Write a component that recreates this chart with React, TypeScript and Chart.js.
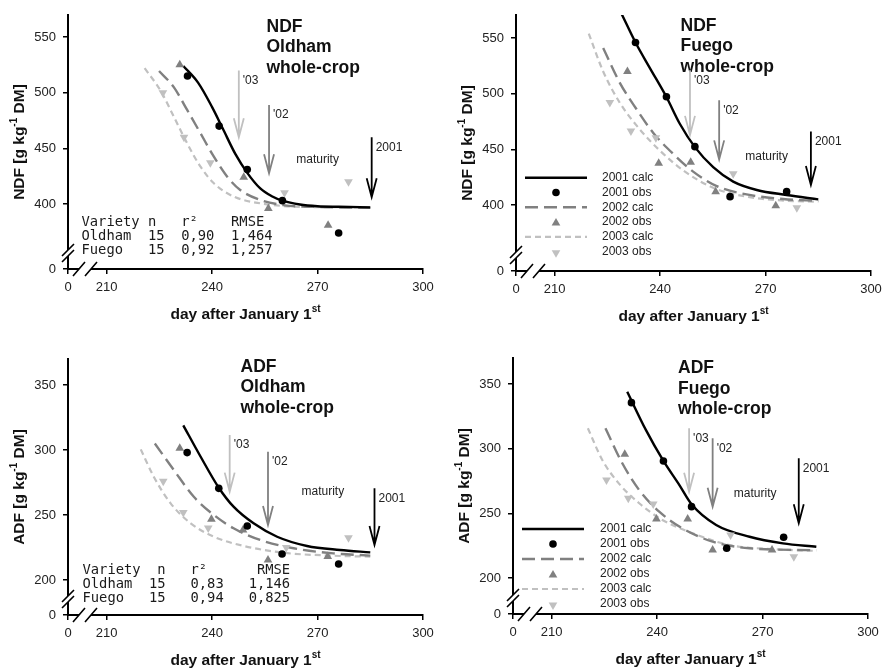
import React, { useEffect, useRef } from 'react';
import { Chart, registerables } from 'chart.js';

Chart.register(...registerables);
Chart.defaults.font.family = '"Liberation Sans", Arial, sans-serif';

// ---------- tick labels ----------
const xTickDays = [210, 240, 270, 300];
const ndfTickValues = [400, 450, 500, 550];
const adfTickValues = [200, 250, 300, 350];

const legendLabels = ['2001 calc', '2001 obs', '2002 calc', '2002 obs', '2003 calc', '2003 obs'];
const arrowLabels = ["'03", "'02", '2001'];
const maturityLabel = 'maturity';

// ---------- NDF Oldham ----------
const ndfOldCalc2001 = [[231.8, 524], [236, 509], [240, 487], [243, 468], [246.6, 445], [250, 428], [253.7, 414], [257, 407], [260, 403], [265, 399.5], [270, 398], [276, 397.5], [285, 397]];
const ndfOldCalc2002 = [[224.9, 519.5], [229.1, 505], [232.9, 484.5], [236.7, 463.5], [240.5, 442.5], [244.3, 424.5], [248, 412.6], [253.7, 403.6], [260.3, 399], [270, 397.3], [285, 396.5]];
const ndfOldCalc2003 = [[220.8, 522], [225.3, 502], [229.1, 478.5], [232.9, 454.5], [236.7, 433.5], [240.5, 418.6], [246.2, 406.6], [253.7, 400.6], [265, 397.5], [285, 397]];
const ndfOldObs2001 = [[233, 515], [242, 470], [250, 431], [260, 403], [276, 374]];
const ndfOldObs2002 = [[230.8, 525], [249, 424], [256, 396], [273, 381]];
const ndfOldObs2003 = [[226, 500], [232, 460], [239.5, 437], [260.6, 410], [278.8, 420]];
const ndfOldArrowDays = [247.6, 256.2, 285.4];
const ndfOldArrowTops = [520, 489, 460];
const ndfOldArrowTips = [460, 427.6, 406];
const ndfOldMaturity = [270, 440];
const ndfOldTable = ['Variety n   r\u00b2    RMSE', 'Oldham  15  0,90  1,464', 'Fuego   15  0,92  1,257'];

// ---------- NDF Fuego ----------
const ndfFueCalc2001 = [[229, 572], [233, 546], [237.1, 523], [241.8, 497], [245.6, 473], [249.9, 452], [255.1, 434], [260.8, 421], [267.5, 413.5], [276, 409], [285, 405]];
const ndfFueCalc2002 = [[223.8, 541], [228.5, 510], [233.3, 486], [238, 465], [243.7, 446], [249.4, 430], [256.1, 417], [264.6, 409.5], [275, 405.4], [285, 403.6]];
const ndfFueCalc2003 = [[219.7, 554], [223.8, 520], [228.5, 492], [234.2, 468], [239.9, 449], [246.6, 431], [255.1, 415.5], [264.6, 407.5], [275, 404], [285, 403]];
const ndfFueObs2001 = [[233, 546], [241.8, 497.3], [249.9, 452.4], [259.9, 407.5], [276, 412]];
const ndfFueObs2002 = [[230.7, 520], [239.6, 437.5], [248.7, 438.4], [255.8, 412], [272.9, 399.4]];
const ndfFueObs2003 = [[225.7, 492], [231.7, 466.5], [238.8, 460.5], [260.8, 428], [278.9, 397.6]];
const ndfFueArrowDays = [248.5, 256.8, 282.9];
const ndfFueArrowTops = [521, 494, 466];
const ndfFueArrowTips = [463, 441, 418];
const ndfFueMaturity = [270.3, 443.4];

// ---------- ADF Oldham ----------
const adfOldCalc2001 = [[231.8, 319], [236.7, 295], [241.9, 271], [246.1, 256.4], [251.8, 243.6], [258.5, 233.3], [267, 226.2], [276.4, 223.1], [285, 221.3]];
const adfOldCalc2002 = [[223.7, 305], [229.1, 284.6], [234.8, 264], [240.5, 250], [246.1, 239.8], [253.7, 230.8], [263.2, 224.4], [274.5, 220.5], [285, 218.8]];
const adfOldCalc2003 = [[219.7, 300.5], [223.4, 279.5], [228.2, 259], [233.9, 243.6], [240.5, 233.3], [249, 226.2], [260.3, 221], [274.5, 218.7], [285, 218]];
const adfOldObs2001 = [[232.9, 298], [241.9, 270.5], [250, 241.5], [259.9, 220], [276, 212.3]];
const adfOldObs2002 = [[230.8, 301.3], [239.8, 246.7], [248.8, 238.5], [255.9, 215.4], [272.9, 218]];
const adfOldObs2003 = [[226.1, 276], [231.8, 252], [238.9, 240], [261.1, 225], [278.8, 232.5]];
const adfOldArrowDays = [245, 255.9, 286.2];
const adfOldArrowTops = [311.5, 298.7, 270.5];
const adfOldArrowTips = [268, 242.3, 227];
const adfOldMaturity = [271.5, 268.2];
const adfOldTable = ['Variety  n   r\u00b2      RMSE', 'Oldham  15   0,83   1,146', 'Fuego   15   0,94   0,825'];

// ---------- ADF Fuego ----------
const adfFueCalc2001 = [[231.5, 344], [236.8, 314.5], [241.8, 290.5], [246.3, 272], [249.8, 257], [256.8, 241], [266.3, 231.9], [275.8, 226.8], [285.3, 224.2]];
const adfFueCalc2002 = [[225.3, 315.8], [230.1, 288.7], [234.9, 268], [240.6, 251.3], [247.2, 238.4], [255.8, 228.1], [266.3, 223], [285.3, 221.5]];
const adfFueCalc2003 = [[220.3, 315.8], [224.4, 291.3], [229.1, 273.2], [234.9, 257.8], [241.5, 244.9], [250.1, 234.6], [260.6, 225.5], [272.9, 222.3], [285.3, 221]];
const adfFueObs2001 = [[232.7, 335.6], [241.8, 290.5], [249.8, 255.2], [259.8, 223], [276, 231.5]];
const adfFueObs2002 = [[230.8, 295.7], [239.8, 245.6], [248.7, 245.6], [255.8, 221.7], [272.7, 221.7]];
const adfFueObs2003 = [[225.6, 275.8], [231.8, 261.6], [238.9, 257.2], [260.9, 233.3], [278.9, 216.5]];
const adfFueArrowDays = [249.1, 255.8, 280.3];
const adfFueArrowTops = [315.8, 308, 292.6];
const adfFueArrowTips = [266.7, 255.1, 242.3];
const adfFueMaturity = [267.9, 265.5];

// ---------- styles ----------
const seriesColors = ['#000000', '#808080', '#c0c0c0'];
const arrowColors = ['#c0c0c0', '#808080', '#000000'];
const calcDashes = [[], [13, 6], [6, 4]];
const calcWidths = [2.4, 2.4, 2.2];
const FONT = '"Liberation Sans", Arial, sans-serif';

interface PanelCfg {
  left: number; top: number; width: number; height: number;
  area: { left: number; right: number; top: number; bottom: number };
  yMin: number; yMax: number; yTicks: number[];
  yTitle: string; title: string[]; titlePos: number[];
  calc: number[][][]; obs: number[][][];
  arrowDays: number[]; arrowTops: number[]; arrowTips: number[];
  maturity: number[];
  table?: string[]; tablePos?: number[];
  legendPos?: number[];
}

const X_MIN = 199;
const X_MAX = 300;

const panels: PanelCfg[] = [
  {
    left: 0, top: 0, width: 441, height: 334,
    area: { left: 68, right: 423, top: 15, bottom: 269 },
    yMin: 341.6, yMax: 569.8, yTicks: ndfTickValues,
    yTitle: 'NDF', title: ['NDF', 'Oldham', 'whole-crop'], titlePos: [266.5, 27],
    calc: [ndfOldCalc2001, ndfOldCalc2002, ndfOldCalc2003],
    obs: [ndfOldObs2001, ndfOldObs2002, ndfOldObs2003],
    arrowDays: ndfOldArrowDays, arrowTops: ndfOldArrowTops, arrowTips: ndfOldArrowTips,
    maturity: ndfOldMaturity, table: ndfOldTable, tablePos: [81.5, 222],
  },
  {
    left: 441, top: 0, width: 442, height: 334,
    area: { left: 75, right: 430, top: 15, bottom: 271 },
    yMin: 340.7, yMax: 570.7, yTicks: ndfTickValues,
    yTitle: 'NDF', title: ['NDF', 'Fuego', 'whole-crop'], titlePos: [239.5, 26],
    calc: [ndfFueCalc2001, ndfFueCalc2002, ndfFueCalc2003],
    obs: [ndfFueObs2001, ndfFueObs2002, ndfFueObs2003],
    arrowDays: ndfFueArrowDays, arrowTops: ndfFueArrowTops, arrowTips: ndfFueArrowTips,
    maturity: ndfFueMaturity, legendPos: [84, 177.7, 14.8, 161],
  },
  {
    left: 0, top: 334, width: 441, height: 334,
    area: { left: 68, right: 423, top: 25, bottom: 281 },
    yMin: 173.1, yMax: 370, yTicks: adfTickValues,
    yTitle: 'ADF', title: ['ADF', 'Oldham', 'whole-crop'], titlePos: [240.5, 33],
    calc: [adfOldCalc2001, adfOldCalc2002, adfOldCalc2003],
    obs: [adfOldObs2001, adfOldObs2002, adfOldObs2003],
    arrowDays: adfOldArrowDays, arrowTops: adfOldArrowTops, arrowTips: adfOldArrowTips,
    maturity: adfOldMaturity, table: adfOldTable, tablePos: [82.5, 236],
  },
  {
    left: 441, top: 334, width: 442, height: 334,
    area: { left: 72, right: 427, top: 24, bottom: 280 },
    yMin: 172.2, yMax: 370.1, yTicks: adfTickValues,
    yTitle: 'ADF', title: ['ADF', 'Fuego', 'whole-crop'], titlePos: [237, 34.5],
    calc: [adfFueCalc2001, adfFueCalc2002, adfFueCalc2003],
    obs: [adfFueObs2001, adfFueObs2002, adfFueObs2003],
    arrowDays: adfFueArrowDays, arrowTops: adfFueArrowTops, arrowTips: adfFueArrowTips,
    maturity: adfFueMaturity, legendPos: [81, 195, 15, 159],
  },
];

function drawTriangle(ctx: CanvasRenderingContext2D, x: number, y: number, r: number, down: boolean) {
  const s = down ? -1 : 1;
  ctx.beginPath();
  ctx.moveTo(x, y - s * r);
  ctx.lineTo(x + r * 0.866, y + s * r * 0.5);
  ctx.lineTo(x - r * 0.866, y + s * r * 0.5);
  ctx.closePath();
  ctx.fill();
}

function drawParts(ctx: CanvasRenderingContext2D, parts: [string, boolean][], cx: number, cy: number) {
  const big = `bold 15.5px ${FONT}`;
  const small = `bold 10px ${FONT}`;
  let total = 0;
  for (const [t, sup] of parts) { ctx.font = sup ? small : big; total += ctx.measureText(t).width; }
  let x = cx - total / 2;
  ctx.textAlign = 'left';
  ctx.textBaseline = 'middle';
  for (const [t, sup] of parts) {
    ctx.font = sup ? small : big;
    ctx.fillText(t, x, sup ? cy - 6 : cy);
    x += ctx.measureText(t).width;
  }
}

function makeOverlay(p: PanelCfg) {
  return {
    id: 'overlay',
    afterDraw(chart: any) {
      const ctx: CanvasRenderingContext2D = chart.ctx;
      const a = chart.chartArea;
      const xs = chart.scales.x;
      const ys = chart.scales.y;
      ctx.save();

      // axis breaks
      ctx.fillStyle = '#fff';
      const yb = a.bottom - 16;
      ctx.fillRect(a.left - 2, yb - 3, 4, 6);
      const xb = a.left + 17;
      ctx.fillRect(xb - 6, a.bottom - 2, 12, 4);
      ctx.strokeStyle = '#000';
      ctx.lineWidth = 1.6;
      ctx.beginPath();
      for (const dy of [-3, 3]) {
        ctx.moveTo(a.left - 6, yb + dy + 6);
        ctx.lineTo(a.left + 6, yb + dy - 6);
      }
      for (const dx of [-6, 6]) {
        ctx.moveTo(xb + dx - 6, a.bottom + 7);
        ctx.lineTo(xb + dx + 6, a.bottom - 7);
      }
      ctx.stroke();

      // axis titles
      ctx.fillStyle = '#111';
      ctx.save();
      ctx.translate(a.left - 48, (a.top + a.bottom) / 2);
      ctx.rotate(-Math.PI / 2);
      drawParts(ctx, [[p.yTitle + ' [g kg', false], ['-1', true], [' DM]', false]], 0, 0);
      ctx.restore();
      drawParts(ctx, [['day after January 1', false], ['st', true]], (a.left + a.right) / 2, a.bottom + 46);

      // panel title
      ctx.font = `bold 17.5px ${FONT}`;
      ctx.textAlign = 'left';
      ctx.textBaseline = 'middle';
      p.title.forEach((t, i) => ctx.fillText(t, p.titlePos[0], p.titlePos[1] + i * 20.5));

      // arrows
      for (let i = 0; i < p.arrowDays.length; i++) {
        const x = xs.getPixelForValue(p.arrowDays[i]);
        const yTop = ys.getPixelForValue(p.arrowTops[i]);
        const yTip = ys.getPixelForValue(p.arrowTips[i]);
        ctx.strokeStyle = arrowColors[i];
        ctx.lineWidth = 1.8;
        ctx.beginPath();
        ctx.moveTo(x, yTop);
        ctx.lineTo(x, yTip);
        ctx.moveTo(x - 5, yTip - 19);
        ctx.lineTo(x, yTip);
        ctx.lineTo(x + 5, yTip - 19);
        ctx.stroke();
        ctx.fillStyle = '#222';
        ctx.font = `12px ${FONT}`;
        ctx.textAlign = 'left';
        ctx.fillText(arrowLabels[i], x + 4, yTop + 10);
      }
      ctx.fillStyle = '#222';
      ctx.font = `12px ${FONT}`;
      ctx.textAlign = 'center';
      ctx.fillText(maturityLabel, xs.getPixelForValue(p.maturity[0]), ys.getPixelForValue(p.maturity[1]));

      // statistics table
      if (p.table && p.tablePos) {
        ctx.font = '13.8px "DejaVu Sans Mono", monospace';
        ctx.textAlign = 'left';
        ctx.fillStyle = '#1a1a1a';
        p.table.forEach((t, i) => ctx.fillText(t, p.tablePos![0], p.tablePos![1] + i * 14));
      }

      // legend
      if (p.legendPos) {
        const [lx, ly, step, tx] = p.legendPos;
        legendLabels.forEach((label, i) => {
          const s = Math.floor(i / 2);
          const y = ly + i * step;
          if (i % 2 === 0) {
            ctx.strokeStyle = seriesColors[s];
            ctx.lineWidth = calcWidths[s];
            ctx.setLineDash(calcDashes[s]);
            ctx.beginPath();
            ctx.moveTo(lx, y);
            ctx.lineTo(lx + 62, y);
            ctx.stroke();
            ctx.setLineDash([]);
          } else {
            ctx.fillStyle = seriesColors[s];
            if (s === 0) {
              ctx.beginPath();
              ctx.arc(lx + 31, y, 3.8, 0, Math.PI * 2);
              ctx.fill();
            } else {
              drawTriangle(ctx, lx + 31, y + 1, 5, s === 2);
            }
          }
          ctx.fillStyle = '#222';
          ctx.font = `12px ${FONT}`;
          ctx.textAlign = 'left';
          ctx.fillText(label, tx, y);
        });
      }
      ctx.restore();
    },
  };
}

function buildConfig(p: PanelCfg): any {
  const toXY = (arr: number[][]) => arr.map(([x, y]) => ({ x, y }));
  const obsSets = p.obs.map((arr, s) => ({
    label: legendLabels[s * 2 + 1],
    data: toXY(arr),
    showLine: false,
    pointStyle: s === 0 ? 'circle' : 'triangle',
    pointRotation: s === 2 ? 180 : 0,
    pointRadius: s === 0 ? 3.8 : 5,
    pointBackgroundColor: seriesColors[s],
    pointBorderWidth: 0,
    pointBorderColor: seriesColors[s],
  }));
  const calcSets = p.calc.map((arr, s) => ({
    label: legendLabels[s * 2],
    data: toXY(arr),
    showLine: true,
    pointRadius: 0,
    borderColor: seriesColors[s],
    borderWidth: calcWidths[s],
    borderDash: calcDashes[s],
    cubicInterpolationMode: 'monotone',
    fill: false,
  }));
  const tickFont = { size: 13, family: FONT };
  return {
    type: 'scatter',
    data: { datasets: [...obsSets, ...calcSets] },
    options: {
      animation: false,
      responsive: false,
      devicePixelRatio: 1,
      layout: { padding: { left: 0, top: p.area.top, right: p.width - p.area.right, bottom: 0 } },
      plugins: { legend: { display: false }, tooltip: { enabled: false } },
      events: [],
      scales: {
        x: {
          type: 'linear', min: X_MIN, max: X_MAX,
          afterBuildTicks: (s: any) => { s.ticks = [X_MIN, ...xTickDays].map((v) => ({ value: v })); },
          afterFit: (s: any) => { s.height = p.height - p.area.bottom; s.paddingLeft = 0; s.paddingRight = 0; },
          ticks: { callback: (v: number, i: number) => (i === 0 ? '0' : String(v)), font: tickFont, color: '#222', padding: 6, maxRotation: 0, autoSkip: false },
          grid: { drawOnChartArea: false, drawTicks: true, tickLength: 5, color: '#000', lineWidth: 1.5 },
          border: { display: true, color: '#000', width: 2 },
        },
        y: {
          type: 'linear', min: p.yMin, max: p.yMax,
          afterBuildTicks: (s: any) => { s.ticks = [p.yMin, ...p.yTicks].map((v) => ({ value: v })); },
          afterFit: (s: any) => { s.width = p.area.left; s.paddingTop = 0; s.paddingBottom = 0; },
          ticks: { callback: (v: number, i: number) => (i === 0 ? '0' : String(v)), font: tickFont, color: '#222', padding: 7, autoSkip: false },
          grid: { drawOnChartArea: false, drawTicks: true, tickLength: 5, color: '#000', lineWidth: 1.5 },
          border: { display: true, color: '#000', width: 2 },
        },
      },
    },
    plugins: [makeOverlay(p)],
  };
}

function Panel({ p }: { p: PanelCfg }) {
  const ref = useRef<HTMLCanvasElement>(null);
  useEffect(() => {
    const chart = new Chart(ref.current as HTMLCanvasElement, buildConfig(p));
    return () => chart.destroy();
  }, [p]);
  return (
    <canvas
      ref={ref}
      width={p.width}
      height={p.height}
      style={{ position: 'absolute', left: p.left, top: p.top, width: p.width, height: p.height }}
    />
  );
}

export default function App() {
  return (
    <div style={{ position: 'absolute', left: 0, top: 0, width: 883, height: 668, background: '#fff' }}>
      {panels.map((p, i) => (
        <Panel key={i} p={p} />
      ))}
    </div>
  );
}
